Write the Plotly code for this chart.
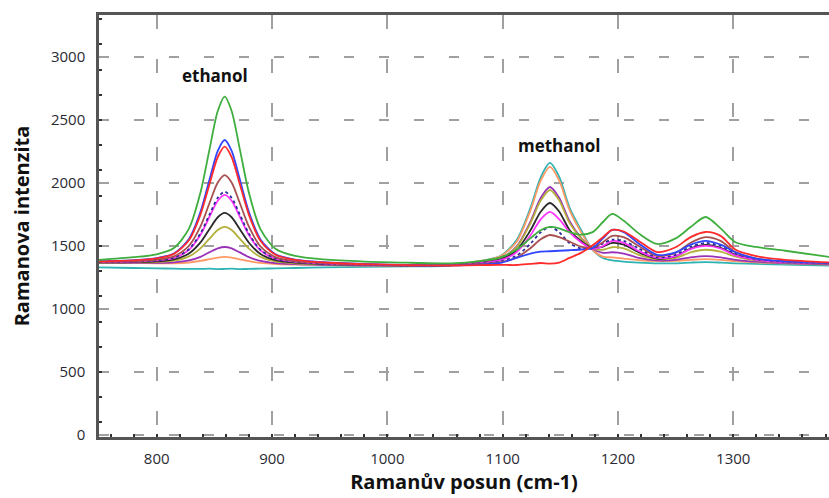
import plotly.graph_objects as go

# Raman shift grid (cm-1)
shift = [750, 780, 800, 815, 828, 838, 846, 853, 859, 865, 872, 880, 890, 903, 920, 945, 980, 1020, 1055,
         1080, 1098, 1112, 1124, 1133, 1141, 1149, 1158, 1168, 1178, 1187, 1195, 1205, 1218, 1234, 1250,
         1263, 1276, 1289, 1302, 1320, 1345, 1383]

green = [1390, 1411, 1434, 1484, 1638, 1925, 2275, 2571, 2685, 2571, 2273, 1923, 1634, 1478, 1421, 1393, 1376, 1367, 1362,
         1380, 1410, 1470, 1560, 1625, 1651, 1640, 1610, 1590, 1610, 1690, 1754, 1700, 1600, 1516, 1560,
         1650, 1730, 1640, 1530, 1492, 1462, 1413]
blue = [1379, 1388, 1404, 1441, 1556, 1771, 2033, 2255, 2341, 2255, 2031, 1769, 1552, 1435, 1392, 1371, 1357, 1349, 1346,
        1352, 1365, 1405, 1440, 1455, 1458, 1462, 1466, 1472, 1484, 1560, 1627, 1610, 1520, 1430, 1450,
        1510, 1540, 1510, 1450, 1400, 1378, 1365]
red = [1378, 1386, 1402, 1437, 1545, 1749, 1996, 2206, 2288, 2206, 1994, 1747, 1541, 1431, 1390, 1369, 1356, 1348, 1345,
       1348, 1350, 1349, 1358, 1365, 1360, 1368, 1405, 1445, 1505, 1570, 1627, 1615, 1540, 1452, 1490,
       1570, 1611, 1580, 1470, 1420, 1390, 1370]
brown = [1375, 1380, 1392, 1418, 1501, 1655, 1845, 2004, 2063, 2004, 1843, 1653, 1497, 1412, 1380, 1364, 1353, 1347, 1346,
         1357, 1372, 1407, 1482, 1553, 1587, 1570, 1535, 1495, 1485, 1530, 1580, 1570, 1500, 1420, 1445,
         1525, 1570, 1540, 1450, 1400, 1378, 1365]
navy = [1373, 1377, 1386, 1407, 1474, 1600, 1753, 1883, 1931, 1883, 1751, 1598, 1470, 1401, 1375, 1361, 1352, 1346, 1347,
        1360, 1377, 1422, 1517, 1608, 1651, 1610, 1522, 1480, 1482, 1520, 1550, 1540, 1480, 1410, 1430,
        1495, 1524, 1500, 1440, 1395, 1375, 1362]
magenta = [1373, 1376, 1385, 1405, 1469, 1589, 1736, 1859, 1905, 1859, 1734, 1587, 1465, 1399, 1374, 1361, 1352, 1346, 1348,
           1364, 1387, 1449, 1583, 1711, 1770, 1713, 1610, 1530, 1475, 1500, 1540, 1525, 1460, 1405, 1420,
           1475, 1500, 1480, 1425, 1390, 1372, 1360]
black = [1371, 1373, 1378, 1393, 1440, 1528, 1637, 1728, 1762, 1728, 1635, 1526, 1436, 1387, 1368, 1357, 1350, 1345, 1349,
         1367, 1393, 1466, 1622, 1772, 1841, 1774, 1627, 1540, 1480, 1495, 1524, 1510, 1450, 1400, 1418,
         1480, 1508, 1485, 1430, 1392, 1372, 1360]
olive = [1369, 1370, 1373, 1383, 1417, 1481, 1560, 1626, 1651, 1626, 1558, 1479, 1413, 1377, 1363, 1355, 1349, 1344, 1350,
         1371, 1402, 1489, 1678, 1860, 1944, 1862, 1683, 1560, 1478, 1470, 1490, 1480, 1430, 1395, 1405,
         1450, 1470, 1455, 1415, 1385, 1370, 1358]
purple = [1367, 1366, 1366, 1370, 1385, 1414, 1451, 1481, 1492, 1481, 1449, 1412, 1381, 1364, 1356, 1351, 1347, 1343, 1350,
          1372, 1404, 1495, 1691, 1881, 1968, 1883, 1696, 1565, 1478, 1445, 1450, 1440, 1405, 1385, 1390,
          1410, 1420, 1410, 1390, 1375, 1365, 1355]
orange = [1366, 1364, 1363, 1363, 1369, 1381, 1396, 1408, 1413, 1408, 1394, 1379, 1365, 1357, 1352, 1349, 1345, 1342, 1352,
          1379, 1418, 1531, 1779, 2018, 2127, 2020, 1784, 1610, 1470, 1415, 1410, 1400, 1388, 1380, 1382,
          1390, 1395, 1390, 1380, 1370, 1362, 1352]
teal = [1330, 1325, 1322, 1320, 1318, 1318, 1320, 1316, 1318, 1320, 1316, 1318, 1320, 1322, 1325, 1330, 1335, 1338, 1345,
        1380, 1420, 1545, 1800, 2045, 2159, 2050, 1805, 1627, 1468, 1405, 1385, 1375, 1368, 1362, 1362,
        1368, 1372, 1368, 1362, 1358, 1352, 1345]

series = [
    ("teal", teal, "#2fb3b3", "solid"),
    ("orange", orange, "#ff9966", "solid"),
    ("purple", purple, "#9932b8", "solid"),
    ("olive", olive, "#b3b03c", "solid"),
    ("black", black, "#2a2a2a", "solid"),
    ("magenta", magenta, "#ff33ff", "solid"),
    ("navy", navy, "#2b2b9a", "dot"),
    ("brown", brown, "#a85050", "solid"),
    ("blue", blue, "#2f45ff", "solid"),
    ("red", red, "#ff2b2b", "solid"),
    ("green", green, "#3fae3f", "solid"),
]

y_ticks = [0, 500, 1000, 1500, 2000, 2500, 3000]
x_ticks = [800, 900, 1000, 1100, 1200, 1300]

fig = go.Figure()
for name, vals, col, dash in series:
    fig.add_trace(go.Scatter(
        x=shift, y=vals, mode="lines", name=name,
        line=dict(color=col, width=1.8, dash=dash, shape="spline", smoothing=0.8),
        showlegend=False))

grid_col = "#a0a0a0"
tick_font = dict(family="Open Sans", size=15, color="#2a2a33")

fig.update_layout(
    width=829, height=498,
    margin=dict(l=99, r=0, t=15, b=61),
    plot_bgcolor="white", paper_bgcolor="white",
    annotations=[
        dict(x=851, y=2849, xref="x", yref="y", text="<b>ethanol</b>", showarrow=False,
             font=dict(family="Open Sans", size=17, color="#111")),
        dict(x=1149, y=2294, xref="x", yref="y", text="<b>methanol</b>", showarrow=False,
             font=dict(family="Open Sans", size=17, color="#111")),
    ],
)
fig.update_xaxes(
    range=[750, 1383], tickvals=x_ticks, ticktext=[str(v) for v in x_ticks],
    showgrid=True, gridcolor=grid_col, griddash="14px,30px", gridwidth=1.5,
    showline=True, linecolor="#555555", linewidth=2.5, mirror=True,
    ticks="", tickfont=tick_font, ticklabelstandoff=6,
    minor=dict(tick0=800, dtick=20, ticks="inside", ticklen=3, tickcolor="#333", tickwidth=2),
    title=dict(text="<b>Ramanův posun (cm-1)</b>", font=dict(family="Open Sans", size=20, color="#111"), standoff=6),
    zeroline=False, layer="below traces",
)
fig.update_yaxes(
    range=[-16, 3333], tickvals=y_ticks, ticktext=[str(v) for v in y_ticks],
    showgrid=True, gridcolor=grid_col, griddash="10px,25px", gridwidth=1.5,
    showline=True, linecolor="#555555", linewidth=2.5, mirror=False,
    ticks="", tickfont=tick_font, ticklabelstandoff=8,
    minor=dict(tick0=100, dtick=200, ticks="inside", ticklen=3, tickcolor="#333", tickwidth=2),
    title=dict(text="<b>Ramanova intenzita</b>", font=dict(family="Open Sans", size=20, color="#111"), standoff=16),
    zeroline=False, layer="below traces",
)

fig.write_html("out.html")
